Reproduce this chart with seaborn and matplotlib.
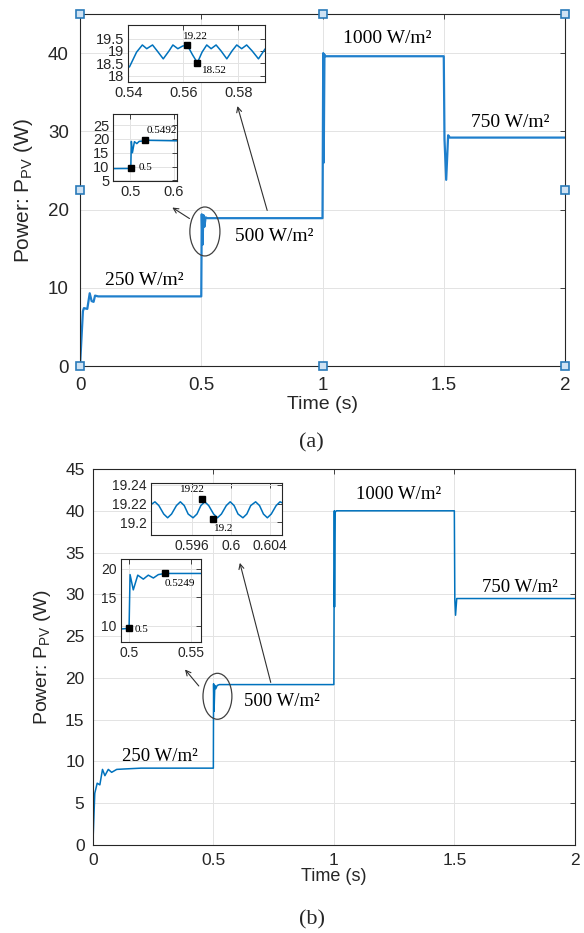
import matplotlib
matplotlib.use('Agg')
import matplotlib.pyplot as plt
from matplotlib.patches import Ellipse
import seaborn as sns

# ---- (a) main trace, breakpoints ----
time_a = [0, 0.012, 0.016, 0.030, 0.040, 0.048, 0.056, 0.062, 0.075, 0.500, 0.502,
          0.505, 0.509, 0.513, 0.518, 0.525, 1.000, 1.003, 1.005, 1.008, 1.012,
          1.500, 1.503, 1.510, 1.518, 1.525, 2.000]
power_a = [0, 7.0, 7.4, 7.3, 9.3, 8.3, 8.2, 9.0, 8.9, 8.9, 19.4,
           15.5, 19.3, 17.8, 19.0, 18.9, 18.9, 40.0, 26.0, 39.8, 39.6,
           39.6, 29.0, 23.8, 29.5, 29.2, 29.2]

# (a) zoom on the 500 W/m2 ripple
time_a_rip = [0.5404, 0.5430, 0.5451, 0.5467, 0.5488, 0.5505, 0.5527, 0.5548, 0.5562,
              0.5580, 0.5598, 0.5615, 0.5633, 0.5651, 0.5668, 0.5685, 0.5701, 0.5719,
              0.5737, 0.5758, 0.5777, 0.5794, 0.5812, 0.5830, 0.5850, 0.5873, 0.5897]
power_a_rip = [18.35, 18.95, 19.24, 19.09, 19.24, 19.00, 18.68, 19.00, 19.24,
               19.09, 19.20, 19.22, 18.85, 18.52, 18.95, 19.24, 19.09, 19.24,
               19.00, 18.68, 19.00, 19.24, 19.09, 19.24, 19.00, 18.68, 19.08]
tips_a_rip = [(0.5615, 19.22, '19.22'), (0.5651, 18.52, '18.52')]

# (a) zoom on the 0.5 s step
time_a_step = [0.461, 0.500, 0.5012, 0.5025, 0.5049, 0.5095, 0.5150, 0.5204, 0.5270, 0.5342, 0.608]
power_a_step = [9.25, 9.3, 9.6, 19.1, 15.0, 19.0, 18.3, 19.1, 19.2, 19.5, 19.3]
tips_a_step = [(0.5012, 9.6, '0.5'), (0.5342, 19.5, '0.5492')]

# ---- (b) main trace ----
time_b = [0, 0.008, 0.018, 0.029, 0.040, 0.050, 0.064, 0.078, 0.099, 0.130, 0.200,
          0.500, 0.501, 0.503, 0.506, 0.510, 0.516, 0.525, 1.000, 1.002, 1.003,
          1.005, 1.010, 1.500, 1.502, 1.505, 1.510, 2.000]
power_b = [0, 6.2, 7.4, 7.2, 9.05, 8.3, 9.05, 8.7, 9.05, 9.1, 9.2,
           9.2, 19.3, 16.0, 19.1, 18.7, 19.1, 19.2, 19.2, 40.0, 28.5,
           39.8, 40.0, 40.0, 29.4, 27.5, 29.5, 29.5]

# (b) zoom on the 500 W/m2 ripple
time_b_rip = [0.5918, 0.5922, 0.5926, 0.5931, 0.5935, 0.5939, 0.5944, 0.5948, 0.5952,
              0.5956, 0.5961, 0.5965, 0.5969, 0.5973, 0.5977, 0.5982, 0.5986, 0.5990,
              0.5995, 0.5999, 0.6003, 0.6007, 0.6012, 0.6016, 0.6020, 0.6025, 0.6029,
              0.6033, 0.6037, 0.6041, 0.6046, 0.6050, 0.6052]
power_b_rip = [19.219, 19.222, 19.218, 19.209, 19.205, 19.209, 19.218, 19.222, 19.218,
               19.209, 19.205, 19.209, 19.218, 19.222, 19.218, 19.209, 19.205, 19.209,
               19.218, 19.222, 19.218, 19.209, 19.205, 19.209, 19.218, 19.222, 19.218,
               19.209, 19.205, 19.209, 19.218, 19.222, 19.221]
tips_b_rip = [(0.5970, 19.2245, '19.22'), (0.5981, 19.2040, '19.2')]

# (b) zoom on the 0.5 s step
time_b_step = [0.4935, 0.500, 0.5008, 0.5034, 0.5070, 0.5115, 0.5155, 0.5196, 0.5236, 0.5290, 0.558]
power_b_step = [9.4, 9.5, 19.0, 16.3, 18.9, 18.2, 18.9, 18.4, 19.0, 19.2, 19.2]
tips_b_step = [(0.500, 9.5, '0.5'), (0.529, 19.2, '0.5249')]

# irradiance labels: (time, power, text)
labels_a = [(0.264, 10.9, '250 W/m²'), (0.80, 16.5, '500 W/m²'),
            (1.268, 41.85, '1000 W/m²'), (1.773, 31.1, '750 W/m²')]
labels_b = [(0.278, 10.6, '250 W/m²'), (0.786, 17.2, '500 W/m²'),
            (1.27, 42.0, '1000 W/m²'), (1.772, 30.8, '750 W/m²')]

# MATLAB selection handles on panel (a)
handle_t = [0, 1, 2, 0, 2, 0, 1, 2]
handle_p = [0, 0, 0, 22.5, 22.5, 45, 45, 45]

BLUE = '#0072BD'
DARK = '#262626'
SANS = ['Liberation Sans', 'DejaVu Sans']
SERIF = ['Liberation Serif', 'DejaVu Serif']

sns.set_style('white')
plt.rcParams['font.family'] = SANS
plt.rcParams['mathtext.default'] = 'regular'


def style(ax, xlim, ylim, xticks, yticks, fs, pad):
    ax.set_xlim(xlim)
    ax.set_ylim(ylim)
    ax.set_xticks(xticks)
    ax.set_yticks(yticks)
    ax.set_xticklabels([f'{v:g}' for v in xticks])
    ax.set_yticklabels([f'{v:g}' for v in yticks])
    ax.grid(True, color='#e3e3e3', lw=0.7)
    ax.set_axisbelow(True)
    ax.tick_params(direction='in', top=True, right=True, labelsize=fs,
                   colors=DARK, length=3.5, width=0.6, pad=pad)
    for s in ax.spines.values():
        s.set_visible(True)
        s.set_color(DARK)
        s.set_linewidth(0.8)
    ax.set_xlabel('')
    ax.set_ylabel('')


def tips(ax, pts, ms, fs, dx, dy):
    for t, p, txt in pts:
        ax.plot(t, p, 's', color='black', ms=ms, zorder=6)
    for (t, p, txt), ox, oy in zip(pts, dx, dy):
        ax.text(t + ox, p + oy, txt, family=SERIF, fontsize=fs, color='black',
                ha='left', va='center', zorder=7)


fig = plt.figure(figsize=(5.84, 9.33), dpi=100)

# ================= panel (a) =================
ax_a = fig.add_axes([0.137, 0.6077, 0.8305, 0.3773])
sns.lineplot(x=time_a, y=power_a, ax=ax_a, sort=False, estimator=None,
             color='#1f7fcc', lw=1.6)
style(ax_a, (0, 2), (0, 45), [0, 0.5, 1, 1.5, 2], [0, 10, 20, 30, 40], 13.5, 8)
ax_a.set_xlabel('Time (s)', fontsize=14, color=DARK, labelpad=1)
ax_a.set_ylabel('Power: P$_{PV}$ (W)', fontsize=15, color=DARK, labelpad=9)
ax_a.plot(handle_t, handle_p, 's', ms=6, mfc='#cfe2f3', mec='#2a7ab9', mew=1.2,
          clip_on=False, zorder=8)
for t, p, txt in labels_a:
    ax_a.text(t, p, txt, family=SERIF, fontsize=14, ha='center', va='center', color='black')
ax_a.add_patch(Ellipse((0.515, 17.2), 0.124, 6.26, fill=False, ec='#404040', lw=0.9, zorder=4))
arrow = dict(arrowstyle='->', color='#303030', lw=0.8, mutation_scale=9)
ax_a.annotate('', xy=(0.371, 20.45), xytext=(0.461, 18.66), arrowprops=arrow)
ax_a.annotate('', xy=(0.646, 33.57), xytext=(0.775, 19.55), arrowprops=arrow)

ins = fig.add_axes([0.2197, 0.9125, 0.2342, 0.0608])
sns.lineplot(x=time_a_rip, y=power_a_rip, ax=ins, sort=False, estimator=None, color=BLUE, lw=1.1)
style(ins, (0.54, 0.5897), (17.76, 20.05), [0.54, 0.56, 0.58], [18, 18.5, 19, 19.5], 10.5, 3)
tips(ins, tips_a_rip, 5, 8, [-0.0017, 0.0016], [0.38, -0.30])

ins = fig.add_axes([0.194, 0.8058, 0.1096, 0.0720])
sns.lineplot(x=time_a_step, y=power_a_step, ax=ins, sort=False, estimator=None, color=BLUE, lw=1.1)
style(ins, (0.461, 0.608), (4.7, 29), [0.5, 0.6], [5, 10, 15, 20, 25], 10.5, 3)
tips(ins, tips_a_step, 5, 8, [0.0175, 0.0023], [0.2, 3.4])

fig.text(0.533, 0.525, '(a)', family=SERIF, fontsize=16, ha='center', va='center')

# ================= panel (b) =================
ax_b = fig.add_axes([0.159, 0.0943, 0.8253, 0.403])
sns.lineplot(x=time_b, y=power_b, ax=ax_b, sort=False, estimator=None,
             color=BLUE, lw=1.1)
style(ax_b, (0, 2), (0, 45), [0, 0.5, 1, 1.5, 2], list(range(0, 46, 5)), 12.5, 6)
ax_b.set_xlabel('Time (s)', fontsize=13, color=DARK, labelpad=0)
ax_b.set_ylabel('Power: P$_{PV}$ (W)', fontsize=14, color=DARK, labelpad=9)
for t, p, txt in labels_b:
    ax_b.text(t, p, txt, family=SERIF, fontsize=13.5, ha='center', va='center', color='black')
ax_b.add_patch(Ellipse((0.517, 17.8), 0.12, 5.5, fill=False, ec='#404040', lw=0.9, zorder=4))
ax_b.annotate('', xy=(0.375, 21.26), xytext=(0.447, 18.78), arrowprops=arrow)
ax_b.annotate('', xy=(0.607, 34.09), xytext=(0.741, 19.14), arrowprops=arrow)

ins = fig.add_axes([0.2586, 0.4266, 0.2243, 0.0557])
sns.lineplot(x=time_b_rip, y=power_b_rip, ax=ins, sort=False, estimator=None, color=BLUE, lw=1.1)
style(ins, (0.5918, 0.6052), (19.1867, 19.242), [0.596, 0.6, 0.604], [19.2, 19.22, 19.24], 10, 3)
tips(ins, tips_b_rip, 5, 8, [-0.0022, 0.00015], [0.0105, -0.0100])

ins = fig.add_axes([0.2072, 0.3119, 0.137, 0.089])
sns.lineplot(x=time_b_step, y=power_b_step, ax=ins, sort=False, estimator=None, color=BLUE, lw=1.1)
style(ins, (0.4935, 0.558), (7.1, 21.76), [0.5, 0.55], [10, 15, 20], 10, 3)
tips(ins, tips_b_step, 3.8, 8, [0.0045, -0.0006], [-0.15, -1.7])

fig.text(0.535, 0.014, '(b)', family=SERIF, fontsize=16, ha='center', va='center')

fig.savefig('out.png', dpi=100)
